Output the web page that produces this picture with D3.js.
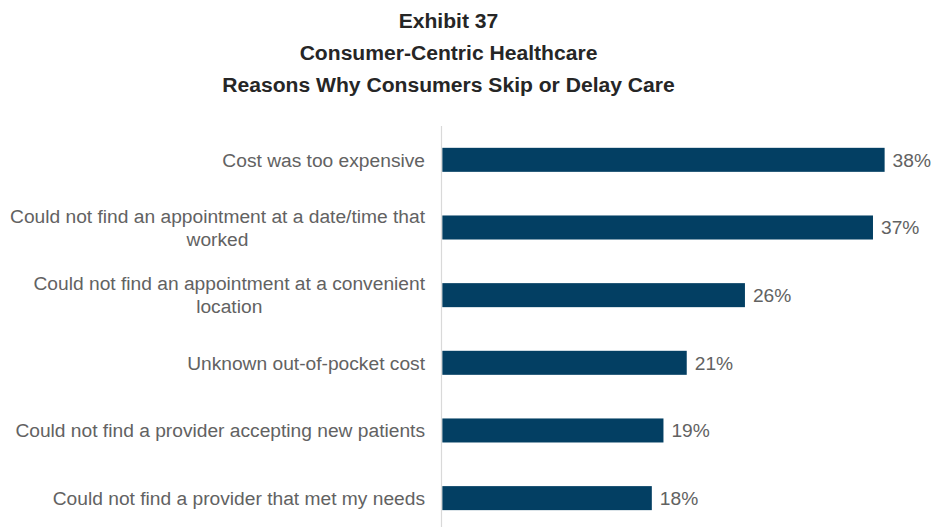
<!DOCTYPE html>
<html>
<head>
<meta charset="utf-8">
<script src="https://cdn.jsdelivr.net/npm/d3@7"></script>
<style>
  html, body { margin: 0; padding: 0; background: #ffffff; }
  svg { display: block; font-family: "Liberation Sans", Arial, sans-serif; }
</style>
</head>
<body>
<svg id="chart" width="934" height="527"></svg>
<script>
// Survey reasons (each entry is split into display lines) and shares in percent
const titleLines = ["Exhibit 37", "Consumer-Centric Healthcare", "Reasons Why Consumers Skip or Delay Care"];
const categories = [
  ["Cost was too expensive"],
  ["Could not find an appointment at a date/time that", "worked"],
  ["Could not find an appointment at a convenient", "location"],
  ["Unknown out-of-pocket cost"],
  ["Could not find a provider accepting new patients"],
  ["Could not find a provider that met my needs"]
];
const values = [38, 37, 26, 21, 19, 18];

const svg = d3.select("#chart");
const W = 934, H = 527;
const margin = { left: 442.3, top: 126 };
const pxPerPct = 11.64;

const x = d3.scaleLinear().domain([0, 40]).range([margin.left, margin.left + 40 * pxPerPct]);
const y = d3.scaleBand()
  .domain(d3.range(categories.length))
  .range([margin.top, margin.top + 67.66 * categories.length])
  .paddingInner(0.645)
  .paddingOuter(0.3225);

// Title block
svg.append("g").selectAll("text")
  .data(titleLines)
  .join("text")
  .attr("x", 448.5)
  .attr("y", (d, i) => 28 + i * 31.8)
  .attr("text-anchor", "middle")
  .attr("font-size", 21.1)
  .attr("font-weight", "bold")
  .attr("fill", "#262626")
  .text(d => d);

// Bars
svg.append("g").selectAll("rect")
  .data(values)
  .join("rect")
  .attr("x", x(0))
  .attr("y", (d, i) => y(i))
  .attr("width", d => x(d) - x(0))
  .attr("height", y.bandwidth())
  .attr("fill", "#033f63");

// Vertical baseline
svg.append("line")
  .attr("x1", x(0) - 0.8).attr("x2", x(0) - 0.8)
  .attr("y1", margin.top).attr("y2", H)
  .attr("stroke", "#d9d9d9")
  .attr("stroke-width", 1.2);

// Value labels
svg.append("g").selectAll("text")
  .data(values)
  .join("text")
  .attr("x", d => x(d) + 8)
  .attr("y", (d, i) => y(i) + y.bandwidth() / 2)
  .attr("dy", "0.35em")
  .attr("font-size", 19.2)
  .attr("fill", "#626262")
  .text(d => d + "%");

// Category labels: each multi-line block is right-aligned, lines centred within it
const labelRight = 425;
const lineGap = 23;
const catG = svg.append("g");
categories.forEach((lines, i) => {
  const g = catG.append("g");
  const texts = g.selectAll("text")
    .data(lines)
    .join("text")
    .attr("font-size", 19.2)
    .attr("fill", "#626262")
    .attr("text-anchor", "middle")
    .attr("dy", "0.35em")
    .text(d => d);
  let maxW = 0;
  texts.each(function () { maxW = Math.max(maxW, this.getComputedTextLength()); });
  const cy = y(i) + y.bandwidth() / 2;
  const n = lines.length;
  texts
    .attr("x", labelRight - maxW / 2)
    .attr("y", (d, j) => cy + (j - (n - 1) / 2) * lineGap);
});
</script>
</body>
</html>
